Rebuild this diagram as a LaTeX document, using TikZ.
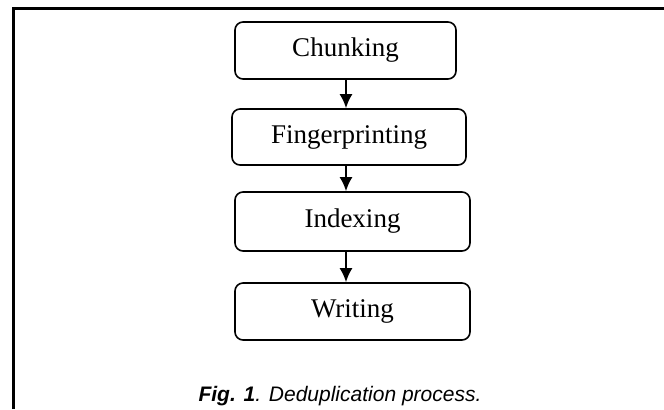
\documentclass[tikz,border=0pt]{standalone}
\usepackage{fontspec}
\usepackage{tikz}
\usetikzlibrary{arrows.meta}
\newfontfamily\capfont{Liberation Sans}
\newfontfamily\boxserif{Liberation Serif}
\newcommand{\boxfont}{\boxserif\fontsize{13.5}{15}\selectfont}
\tikzset{
  step box/.style={draw=black, line width=0.8pt, rounded corners=4pt, fill=white,
    inner sep=0pt, font=\boxfont},
  flow edge/.style={-{Latex[length=7pt,width=6.5pt]}, line width=1pt},
  frame line/.style={line width=1.5pt}
}

\begin{document}
\begin{tikzpicture}[x=0.5pt, y=-0.5pt]
        	\useasboundingbox (0,0) rectangle (664,409);
        	% frame
        	\draw [style=frame line] (13,409) -- (13,8) -- (664,8);
        	% steps
        	\node [style=step box, minimum width=110.5pt, minimum height=28.5pt] (chunk) at (345.5,50.5) {Chunking};
        	\node [style=step box, minimum width=117pt, minimum height=28pt] (finger) at (349,137) {Fingerprinting};
        	\node [style=step box, minimum width=117.5pt, minimum height=29.5pt] (index) at (352.5,221.5) {Indexing};
        	\node [style=step box, minimum width=117.5pt, minimum height=28.5pt] (write) at (352.5,311.5) {Writing};
        	\coordinate (axis) at (346,0);
        	% arrows
        	\draw [style=flow edge] (chunk.south -| axis) to (finger.north -| axis);
        	\draw [style=flow edge] (finger.south -| axis) to (index.north -| axis);
        	\draw [style=flow edge] (index.south -| axis) to (write.north -| axis);
        	% caption
        	\node [font=\capfont\itshape\fontsize{10.5}{12}\selectfont] (caption) at (340,396) {\textbf{Fig. 1}. Deduplication process.};
\end{tikzpicture}
\end{document}
